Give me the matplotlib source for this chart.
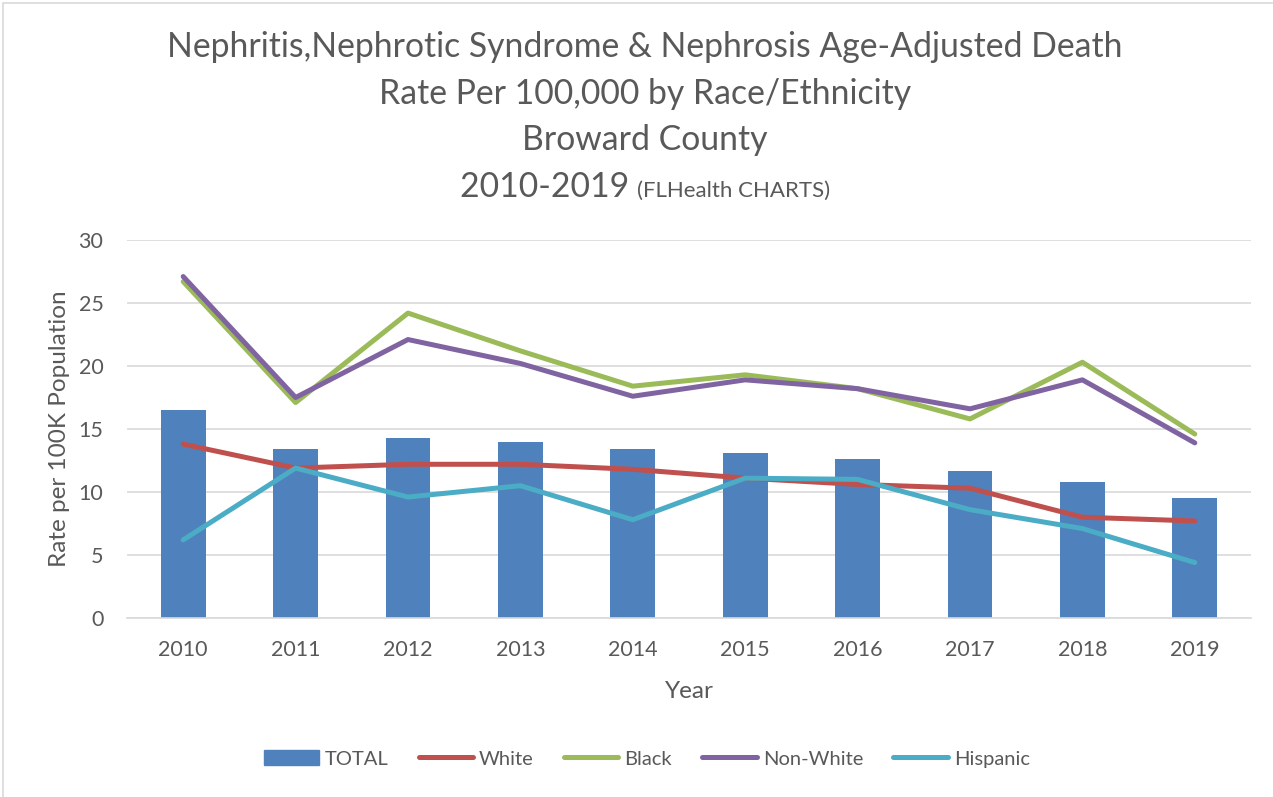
import matplotlib
matplotlib.use("Agg")
import matplotlib.pyplot as plt
from matplotlib.patches import Rectangle, Patch
from matplotlib.lines import Line2D
import numpy as np

years = ["2010", "2011", "2012", "2013", "2014", "2015", "2016", "2017", "2018", "2019"]
total = [16.5, 13.4, 14.3, 14.0, 13.4, 13.1, 12.6, 11.7, 10.8, 9.5]
white = [13.8, 11.9, 12.2, 12.2, 11.8, 11.1, 10.6, 10.3, 8.0, 7.7]
black = [26.7, 17.1, 24.2, 21.2, 18.4, 19.3, 18.2, 15.8, 20.3, 14.6]
non_white = [27.1, 17.5, 22.1, 20.2, 17.6, 18.9, 18.2, 16.6, 18.9, 13.9]
hispanic = [6.2, 11.9, 9.6, 10.5, 7.8, 11.1, 11.0, 8.6, 7.1, 4.4]
yticks = [0, 5, 10, 15, 20, 25, 30]

FONT = "Lato"
TXT = "#595959"
W, H = 1273, 797
fig = plt.figure(figsize=(W / 100, H / 100), dpi=100)
plt.rcParams['font.family'] = [FONT, 'DejaVu Sans']

# chart border
fig.patches.append(Rectangle((3 / W, -0.05), 1.2, 1 - 3 / H + 0.05, transform=fig.transFigure,
                             fill=False, edgecolor="#d9d9d9", linewidth=1.2))

ax = fig.add_axes([127 / W, (H - 618) / H, (1251 - 127) / W, (618 - 240) / H])
x = np.arange(len(years))
ax.bar(x, total, width=0.4, color="#4f81bd", zorder=2)
lw = 3.6
kw = dict(lw=lw, solid_capstyle="round", solid_joinstyle="round")
ax.plot(x, white, color="#c0504d", zorder=3, **kw)
ax.plot(x, black, color="#9bbb59", zorder=3, **kw)
ax.plot(x, non_white, color="#8064a2", zorder=4, **kw)
ax.plot(x, hispanic, color="#4bacc6", zorder=3, **kw)

ax.set_xlim(-0.5, len(years) - 0.5)
ax.set_ylim(0, 30)
ax.set_yticks(yticks)
ax.set_xticks(x)
ax.set_xticklabels(years)
ax.yaxis.grid(True, color="#d9d9d9", lw=1.2, zorder=0)
ax.set_axisbelow(True)
for s in ["top", "right", "left"]:
    ax.spines[s].set_visible(False)
ax.spines["bottom"].set_color("#d9d9d9")
ax.spines["bottom"].set_linewidth(1.2)
ax.tick_params(axis="both", length=0, labelsize=15.5, colors=TXT)
ax.tick_params(axis="x", pad=16)
ax.tick_params(axis="y", pad=17)
ax.set_xlabel("Year", fontsize=17.5, color=TXT, labelpad=15)
ax.set_ylabel("Rate per 100K Population", fontsize=17.5, color=TXT, labelpad=6)

# title
tsize = 24.3
cx = 645 / W
fig.text(cx, 1 - 47 / H, "Nephritis,Nephrotic Syndrome & Nephrosis Age-Adjusted Death",
         ha="center", va="center", fontsize=tsize, color=TXT)
fig.text(cx, 1 - 94 / H, "Rate Per 100,000 by Race/Ethnicity", ha="center", va="center",
         fontsize=tsize, color=TXT)
fig.text(cx, 1 - 140 / H, "Broward County", ha="center", va="center", fontsize=tsize, color=TXT)
t1 = fig.text(0, 0, "2010-2019 ", ha="left", va="baseline", fontsize=tsize, color=TXT)
t2 = fig.text(0, 0, "(FLHealth CHARTS)", ha="left", va="baseline", fontsize=16, color=TXT)
fig.canvas.draw()
r = fig.canvas.get_renderer()
w1 = t1.get_window_extent(r).width / W
w2 = t2.get_window_extent(r).width / W
start = cx - (w1 + w2) / 2
base = 1 - 197 / H
t1.set_position((start, base))
t2.set_position((start + w1, base))

handles = [Patch(color="#4f81bd"),
           Line2D([], [], color="#c0504d", lw=lw, solid_capstyle="round"),
           Line2D([], [], color="#9bbb59", lw=lw, solid_capstyle="round"),
           Line2D([], [], color="#8064a2", lw=lw, solid_capstyle="round"),
           Line2D([], [], color="#4bacc6", lw=lw, solid_capstyle="round")]
labels = ["TOTAL", "White", "Black", "Non-White", "Hispanic"]
fig.legend(handles, labels, loc="center", bbox_to_anchor=(647 / W, 1 - 759 / H), ncol=5,
           frameon=False, fontsize=14.5, labelcolor=TXT, handlelength=2.7, handleheight=0.75,
           columnspacing=1.5, handletextpad=0.3)

fig.savefig("out.png", dpi=100)
